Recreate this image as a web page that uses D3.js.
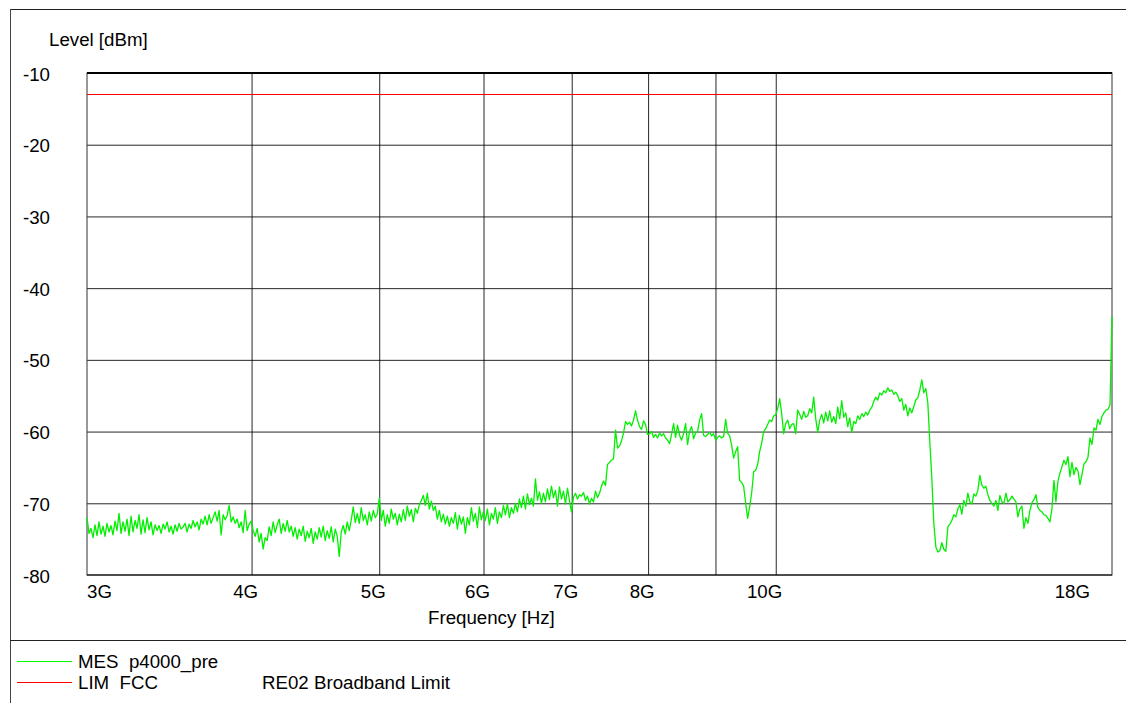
<!DOCTYPE html>
<html>
<head>
<meta charset="utf-8">
<script src="https://cdn.jsdelivr.net/npm/d3@7"></script>
<style>
  html, body { margin: 0; padding: 0; background: #fff; }
  svg { display: block; }
  text { font-family: "Liberation Sans", Arial, sans-serif; font-size: 18.7px; fill: #000; white-space: pre; }
</style>
</head>
<body>
<svg id="chart" width="1126" height="703"></svg>
<script>
// ---------- data ----------
const sweepStartHz = 3e9;
const sweepStopHz = 18e9;

const yTickValues = [-10, -20, -30, -40, -50, -60, -70, -80];
const yTickLabels = ["-10", "-20", "-30", "-40", "-50", "-60", "-70", "-80"];
const xTickValues = [3e9, 4e9, 5e9, 6e9, 7e9, 8e9, 10e9, 18e9];
const xTickLabels = ["3G", "4G", "5G", "6G", "7G", "8G", "10G", "18G"];
const xGridValues = [4e9, 5e9, 6e9, 7e9, 8e9, 9e9, 10e9];
const yGridValues = [-20, -30, -40, -50, -60, -70];

const limitFreq = [3e9, 18e9];
const limitLevel = [-13, -13];

// measured level (dBm), log-spaced sweep points from 3 GHz to 18 GHz
const mesLevel = [
 -72.0,-74.2,-73.5,-74.8,-73.0,-74.5,-72.6,-74.3,-73.2,-74.6,-72.8,-74.0,-73.1,-74.4,-72.5,-73.8,-71.4,-74.2,-72.6,-73.9,
 -72.2,-74.5,-71.8,-74.0,-72.4,-73.5,-71.6,-74.3,-72.3,-74.1,-72.0,-73.7,-72.6,-74.4,-73.0,-73.8,-73.1,-74.2,-72.9,-73.6,
 -72.6,-74.0,-73.2,-74.3,-73.0,-73.9,-72.8,-73.6,-73.3,-72.8,-74.0,-72.9,-73.5,-72.4,-73.3,-72.6,-73.7,-72.2,-72.9,-71.8,
 -73.0,-71.6,-72.8,-72.0,-71.2,-72.5,-71.0,-74.4,-71.6,-72.3,-71.7,-70.3,-72.6,-71.9,-72.8,-72.2,-73.4,-72.6,-74.1,-71.0,
 -73.8,-72.9,-72.5,
 -73.8,-74.6,-73.5,-75.4,-74.2,-76.4,-74.8,-75.2,-73.3,-74.5,-72.6,-74.1,-73.0,-72.2,-74.2,-72.8,-73.9,-72.4,-74.0,-73.2,
 -74.6,-73.4,-75.0,-73.6,-74.5,-73.2,-75.3,-73.9,-74.8,-73.5,-75.6,-74.0,-75.0,-73.4,-74.7,-73.2,-75.2,-73.8,-74.9,-73.3,
 -75.4,-73.6,-74.6,-77.4,-74.0,-73.1,-74.3,-72.6,-73.8,-72.3,-70.5,-72.7,-71.4,-72.8,-70.6,-72.4,-71.6,-73.0,-71.2,-72.5,
 -71.0,-72.0,-71.5,
 -69.3,-72.4,-71.0,-73.2,-71.6,-72.8,-70.8,-72.2,-71.4,-73.0,-71.5,-72.6,-70.9,-72.4,-70.4,-71.8,-70.9,-72.6,-70.7,-71.4,
 -70.2,-69.6,-68.9,-70.3,-68.6,-70.8,-69.7,-71.0,-70.4,-72.2,-71.0,-72.6,-71.5,-72.9,-71.8,-73.2,-72.0,-72.8,-71.3,-73.6,
 -71.7,-72.9,-71.9,-74.2,-72.0,-73.0,-70.6,-72.5,-71.4,-73.4,-70.5,-72.3,-71.2,
 -72.4,-70.8,-73.0,-71.4,-72.2,-70.6,-72.8,-71.2,-72.0,-70.3,-71.6,-70.1,-72.0,-70.6,-71.4,-70.0,-71.2,-69.4,-70.6,-69.0,
 -70.8,-68.7,-70.2,-69.3,-70.4,-66.6,-69.6,-68.4,-70.0,-68.6,-69.8,-68.0,-69.5,-67.6,-69.2,-68.2,-70.4,-67.7,-69.4,-68.3,
 -70.1,-67.9,-69.6,-71.2,
 -69.2,-68.6,-69.4,-68.8,-69.0,-68.5,-69.6,-69.0,-70.1,-69.3,-69.8,-68.3,-69.2,-68.6,-67.6,-66.9,-67.5,-64.6,-64.3,-64.0,
 -63.8,-59.8,-62.3,-62.0,-61.3,-60.2,-58.6,-59.0,-58.7,-59.2,-58.4,-57.1,-58.4,-59.3,-59.7,-58.5,-59.0,-60.4,
 -60.3,-60.0,-60.8,-60.4,-60.9,-60.2,-60.6,-60.3,-60.9,-61.2,-61.7,-60.4,-58.9,-60.8,-59.1,-60.5,-61.2,-60.3,-58.9,-61.8,
 -60.0,-59.3,-61.0,-60.2,-60.0,-58.4,-57.5,-60.5,-60.7,-60.4,-60.1,-60.6,-60.3,-61.2,-60.8,-60.6,-60.9,-60.7,-58.3,-60.2,
 -60.6,-61.9,-63.7,-62.8,-62.1,-66.8,-67.1,-67.6,-70.0,-72.1,-70.5,-68.6,-65.6,-65.4,-64.6,-62.8,-61.6,-60.0,-59.6,-59.0,
 -58.4,-58.6,-57.8,-57.7,
 -56.8,-55.4,-57.5,-60.3,-58.9,-58.4,-59.6,-59.0,-58.9,-60.3,-57.0,-57.6,-58.3,-57.2,-58.0,-57.8,-56.8,-57.4,-55.2,-58.2,
 -60.1,-58.4,-57.6,-58.8,-57.3,-58.5,-57.1,-58.7,-57.9,-58.9,-56.6,-58.2,-55.7,-58.0,-57.4,-59.3,-58.1,-60.1,-58.6,-58.9,
 -57.8,-58.3,-57.5,-57.9,-57.3,-57.7,-57.0,-56.6,-55.8,-55.2,-55.6,-54.6,-54.9,-54.3,-54.6,-53.9,-54.4,-54.2,-54.8,-54.5,
 -55.0,-55.8,-55.4,-57.0,-56.2,-57.8,-56.7,-57.4,-56.5,-55.6,-55.3,-54.2,-52.8,-54.6,-54.0,-56.0,-61.5,
 -66.5,-72.8,-76.1,-76.8,-76.6,-75.5,-76.4,-76.7,-73.3,-72.9,-72.4,-71.6,-71.9,-70.8,-70.2,-71.5,-69.6,-70.4,-68.6,-69.8,
 -70.1,-68.7,-69.0,-68.2,-66.1,-67.5,-67.9,-67.6,-68.8,-69.6,-70.0,-70.4,-69.6,-71.0,-68.9,-69.8,-70.0,-68.6,-69.8,-69.5,
 -69.0,-69.4,-69.8,-71.9,-70.8,-70.4,-73.5,-72.0,-72.8,-71.0,-69.9,-69.5,-68.8,-70.6,-71.0,-71.2,-71.6,-71.7,-72.1,-72.6,
 -70.8,-66.8,-69.8,-66.9,-65.8,-64.9,-64.0,-64.6,-63.5,-66.3,-64.3,-66.0,-65.0,-65.5,-67.4,-66.0,-64.5,-64.2,-63.6,-60.9,
 -61.8,-59.5,-59.8,-58.3,-59.0,-57.9,-57.4,-57.0,-56.9,-56.3,-44.0
];

const legendNames = ["MES  p4000_pre", "LIM  FCC"];
const legendColors = ["#00ff00", "#ff0000"];
const legendNote = "RE02 Broadband Limit";

// ---------- drawing ----------
const svg = d3.select("#chart");
const plot = { left: 87, right: 1112, top: 73, bottom: 575 };

const x = d3.scaleLog().domain([sweepStartHz, sweepStopHz]).range([plot.left, plot.right]);
const y = d3.scaleLinear().domain([-80, -10]).range([plot.bottom, plot.top]);

// outer frame
svg.append("line").attr("x1", 10).attr("x2", 1126).attr("y1", 9.5).attr("y2", 9.5).attr("stroke", "#222").attr("stroke-width", 1.2);
svg.append("line").attr("x1", 10.5).attr("x2", 10.5).attr("y1", 9).attr("y2", 703).attr("stroke", "#444").attr("stroke-width", 1);
svg.append("line").attr("x1", 10).attr("x2", 1126).attr("y1", 640.5).attr("y2", 640.5).attr("stroke", "#222").attr("stroke-width", 1);

// grid via axes
const h = plot.bottom - plot.top, w = plot.right - plot.left;
const gx = svg.append("g").attr("transform", `translate(0,${plot.bottom})`)
  .call(d3.axisBottom(x).tickValues(xGridValues).tickSize(-h).tickFormat(""));
const gy = svg.append("g").attr("transform", `translate(${plot.left},0)`)
  .call(d3.axisLeft(y).tickValues(yGridValues).tickSize(-w).tickFormat(""));
[gx, gy].forEach(g => {
  g.select(".domain").remove();
  g.selectAll(".tick line").attr("stroke", "#000").attr("stroke-width", 1).attr("opacity", 0.85);
});

// plot border
svg.append("rect").attr("x", plot.left).attr("y", plot.top).attr("width", w).attr("height", h)
  .attr("fill", "none").attr("stroke", "#333").attr("stroke-width", 1);
svg.append("line").attr("x1", plot.left).attr("x2", plot.right).attr("y1", y(-10)).attr("y2", y(-10))
  .attr("stroke", "#000").attr("stroke-width", 2);
svg.append("line").attr("x1", plot.left).attr("x2", plot.right).attr("y1", y(-80)).attr("y2", y(-80))
  .attr("stroke", "#000").attr("stroke-width", 1);

// limit line
const limitData = limitFreq.map((f, i) => [f, limitLevel[i]]);
svg.append("path").datum(limitData)
  .attr("d", d3.line().x(d => x(d[0])).y(d => y(d[1])))
  .attr("fill", "none").attr("stroke", "#ff0000").attr("stroke-width", 1);

// measurement trace
const n = mesLevel.length;
const mesData = mesLevel.map((v, i) => [sweepStartHz * Math.pow(sweepStopHz / sweepStartHz, i / (n - 1)), v]);
svg.append("path").datum(mesData)
  .attr("d", d3.line().x(d => x(d[0])).y(d => y(d[1])))
  .attr("fill", "none").attr("stroke", "#00f000").attr("stroke-width", 1.3).attr("stroke-linejoin", "round");

// y tick labels
svg.append("g").selectAll("text").data(yTickValues).join("text")
  .attr("x", 50).attr("y", d => y(d) + 7.5).attr("text-anchor", "end")
  .text((d, i) => yTickLabels[i]);

// x tick labels
const xl = svg.append("g");
xTickValues.forEach((v, i) => {
  const t = xl.append("text").attr("y", 598).text(xTickLabels[i]);
  const tw = t.node().getComputedTextLength();
  let end = x(v) + 6.5;
  let start = end - tw;
  if (start < plot.left) { start = plot.left; }
  if (start + tw > plot.right - 22) { start = plot.right - 22 - tw; }
  t.attr("x", start);
});

// axis titles
svg.append("text").attr("x", 49).attr("y", 46).text("Level [dBm]");
svg.append("text").attr("x", 428).attr("y", 624).text("Frequency [Hz]");

// legend
const lg = svg.append("g");
legendNames.forEach((name, i) => {
  const cy = 661 + i * 21;
  lg.append("line").attr("x1", 17).attr("x2", 72).attr("y1", cy + 0.5).attr("y2", cy + 0.5)
    .attr("stroke", legendColors[i]).attr("stroke-width", 1.2);
  lg.append("text").attr("x", 78).attr("y", cy + 7).text(name);
});
lg.append("text").attr("x", 262).attr("y", 682 + 7).text(legendNote);
</script>
</body>
</html>
